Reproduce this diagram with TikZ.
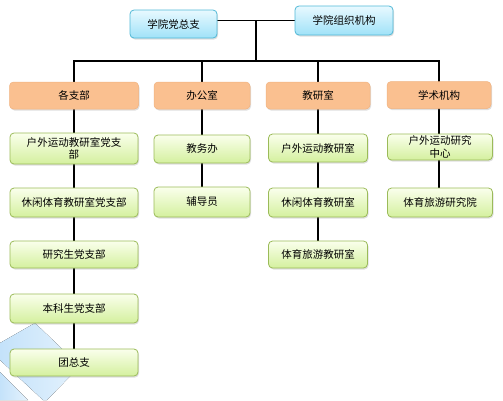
\documentclass[tikz,border=0pt]{standalone}
\usepackage{fontspec}
\newfontfamily\cjk{Noto Sans CJK SC}
\usetikzlibrary{shadows,backgrounds}

\definecolor{toptop}{RGB}{232,249,255}
\definecolor{topbot}{RGB}{160,226,248}
\definecolor{topline}{RGB}{80,184,214}
\definecolor{deptfill}{RGB}{250,192,144}
\definecolor{deptline}{RGB}{240,178,128}
\definecolor{unittop}{RGB}{250,255,236}
\definecolor{unitbot}{RGB}{212,240,158}
\definecolor{unitline}{RGB}{155,187,89}
\definecolor{wmblue}{RGB}{196,226,250}

\tikzset{
	box/.style={rounded corners=4pt, align=center, inner sep=1pt,
		font=\cjk\fontsize{10.5}{12.5}\selectfont,
		drop shadow={shadow xshift=1pt, shadow yshift=-1.5pt, opacity=0.25}},
	topbox/.style={box, draw=topline, line width=0.8pt, top color=toptop, bottom color=topbot},
	deptbox/.style={box, draw=deptline, line width=0.5pt, fill=deptfill, minimum height=27pt},
	unitbox/.style={box, draw=unitline, line width=0.8pt, top color=unittop, bottom color=unitbot},
	link/.style={line width=1.8pt, line cap=rect},
	wm/.style={left color=wmblue, right color=white!55!wmblue}
}

\begin{document}
\begin{tikzpicture}[x=1pt,y=-1pt]
	\useasboundingbox (0,0) rectangle (503,400);
	% top level
	\node[topbox, minimum width=87pt, minimum height=28pt] (dzz) at (173.5,24) {学院党总支};
	\node[topbox, minimum width=98pt, minimum height=29pt] (zzjg) at (344,20.5) {学院组织机构};
	\coordinate (hub) at (256,20.5);
	\coordinate (bus) at (256,61);
	% departments
	\node[deptbox, minimum width=129pt] (zb) at (74,95.5) {各支部};
	\node[deptbox, minimum width=96pt] (bgs) at (202,95.5) {办公室};
	\node[deptbox, minimum width=104pt] (jys) at (318,95.5) {教研室};
	\node[deptbox, minimum width=104pt] (xsjg) at (439,95) {学术机构};
	% column 1
	\node[unitbox, minimum width=128pt, minimum height=31pt] (hwdzb) at (74,148.5) {户外运动教研室党支\\部};
	\node[unitbox, minimum width=128pt, minimum height=29pt] (xxdzb) at (74,202.5) {休闲体育教研室党支部};
	\node[unitbox, minimum width=128pt, minimum height=27pt] (yjs) at (74,254.5) {研究生党支部};
	\node[unitbox, minimum width=128pt, minimum height=29pt] (bks) at (74,308.5) {本科生党支部};
	\node[unitbox, minimum width=128pt, minimum height=27pt] (tzz) at (74,362.5) {团总支};
	% column 2
	\node[unitbox, minimum width=96pt, minimum height=28pt] (jwb) at (202,149) {教务办};
	\node[unitbox, minimum width=96pt, minimum height=30pt] (fdy) at (202,202) {辅导员};
	% column 3
	\node[unitbox, minimum width=99pt, minimum height=28pt] (hwjys) at (318,148) {户外运动教研室};
	\node[unitbox, minimum width=99pt, minimum height=29pt] (xxjys) at (318,202.5) {休闲体育教研室};
	\node[unitbox, minimum width=99pt, minimum height=27pt] (lyjys) at (318,254.5) {体育旅游教研室};
	% column 4
	\node[unitbox, minimum width=105pt, minimum height=26pt, inner sep=0pt] (hwzx) at (440,147) {户外运动研究\\中心};
	\node[unitbox, minimum width=105pt, minimum height=29pt] (lyyjy) at (440,202.5) {体育旅游研究院};

	\begin{scope}[on background layer]
		\fill[wm] (0,343) -- (35,323) -- (80,366) -- (47,400) -- (43,400) -- (0,360) -- cycle;
		\fill[wm] (0,372) -- (28,400) -- (0,400) -- cycle;
		\draw[link] (dzz.east |- zzjg) -- (zzjg);
		\draw[link] (hub) -- (bus);
		\draw[link] (zb |- bus) -- (xsjg |- bus);
		\foreach \d in {zb,bgs,jys,xsjg}
			\draw[link] (\d |- bus) -- (\d);
		\draw[link] (zb) -- (tzz);
		\draw[link] (bgs) -- (fdy);
		\draw[link] (jys) -- (lyjys);
		\draw[link] (xsjg) -- (xsjg |- lyyjy);
	\end{scope}
\end{tikzpicture}
\end{document}
